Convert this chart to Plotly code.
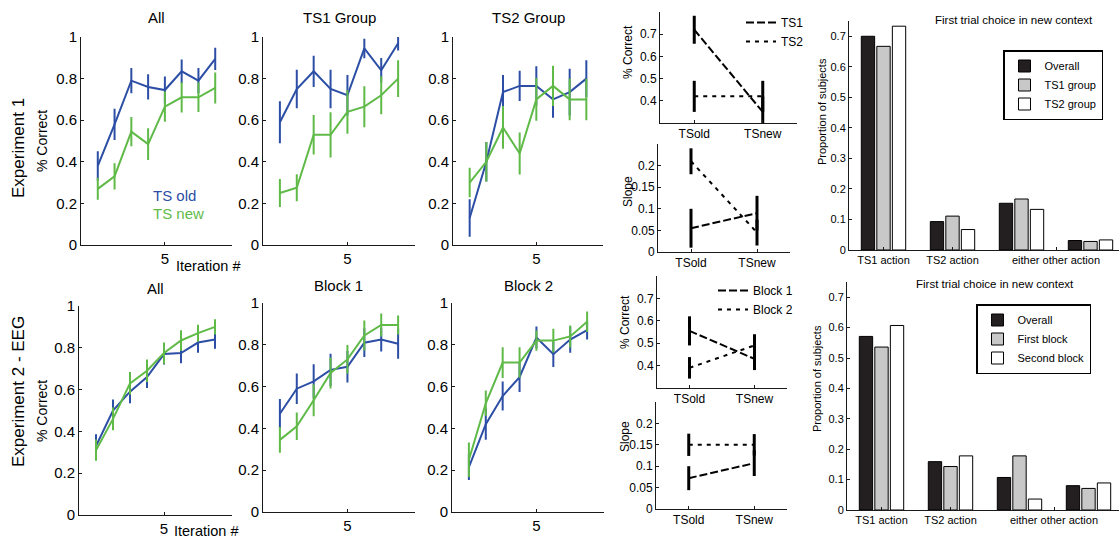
import plotly.graph_objects as go

W, H = 1119, 541

# ---------------- data ----------------
iterations = [1, 2, 3, 4, 5, 6, 7, 8]

exp1_all_old = [0.38, 0.58, 0.79, 0.76, 0.745, 0.835, 0.79, 0.895]
exp1_all_old_err = [0.066, 0.07, 0.056, 0.056, 0.06, 0.052, 0.056, 0.049]
exp1_all_new = [0.27, 0.33, 0.545, 0.485, 0.665, 0.71, 0.71, 0.755]
exp1_all_new_err = [0.048, 0.058, 0.066, 0.072, 0.068, 0.068, 0.066, 0.07]

exp1_ts1_old = [0.59, 0.75, 0.835, 0.75, 0.72, 0.945, 0.84, 0.97]
exp1_ts1_old_err = [0.096, 0.088, 0.07, 0.088, 0.092, 0.042, 0.054, 0.03]
exp1_ts1_new = [0.25, 0.275, 0.53, 0.53, 0.64, 0.665, 0.72, 0.80]
exp1_ts1_new_err = [0.062, 0.06, 0.09, 0.104, 0.1, 0.094, 0.086, 0.084]

exp1_ts2_old = [0.13, 0.40, 0.735, 0.765, 0.765, 0.70, 0.735, 0.80]
exp1_ts2_old_err = [0.085, 0.09, 0.078, 0.068, 0.09, 0.084, 0.108, 0.084]
exp1_ts2_new = [0.30, 0.40, 0.565, 0.44, 0.70, 0.765, 0.70, 0.70]
exp1_ts2_new_err = [0.066, 0.09, 0.098, 0.096, 0.098, 0.092, 0.095, 0.095]

exp2_all_old = [0.33, 0.50, 0.59, 0.66, 0.77, 0.775, 0.825, 0.84]
exp2_all_old_err = [0.052, 0.048, 0.05, 0.048, 0.045, 0.044, 0.044, 0.04]
exp2_all_new = [0.31, 0.46, 0.63, 0.69, 0.775, 0.835, 0.87, 0.90]
exp2_all_new_err = [0.046, 0.05, 0.05, 0.049, 0.046, 0.044, 0.036, 0.032]

exp2_b1_old = [0.47, 0.59, 0.625, 0.68, 0.695, 0.81, 0.825, 0.805]
exp2_b1_old_err = [0.066, 0.068, 0.077, 0.072, 0.07, 0.064, 0.052, 0.067]
exp2_b1_new = [0.345, 0.41, 0.535, 0.665, 0.73, 0.845, 0.895, 0.895]
exp2_b1_new_err = [0.057, 0.061, 0.072, 0.069, 0.064, 0.067, 0.05, 0.041]

exp2_b2_old = [0.215, 0.42, 0.555, 0.645, 0.835, 0.755, 0.825, 0.87]
exp2_b2_old_err = [0.057, 0.07, 0.065, 0.066, 0.048, 0.057, 0.058, 0.04]
exp2_b2_new = [0.25, 0.52, 0.715, 0.715, 0.82, 0.82, 0.84, 0.91]
exp2_b2_new_err = [0.078, 0.056, 0.069, 0.068, 0.044, 0.052, 0.048, 0.044]

ts_conditions = [1, 2]
ts_condition_labels = ["TSold", "TSnew"]

exp1_acc_ts1 = [0.72, 0.35]
exp1_acc_ts1_err = [0.063, 0.07]
exp1_acc_ts2 = [0.42, 0.42]
exp1_acc_ts2_err = [0.07, 0.07]
exp1_slope_ts1 = [0.055, 0.09]
exp1_slope_ts1_err = [0.045, 0.04]
exp1_slope_ts2 = [0.21, 0.045]
exp1_slope_ts2_err = [0.03, 0.03]

exp2_acc_b1 = [0.555, 0.43]
exp2_acc_b1_err = [0.065, 0.05]
exp2_acc_b2 = [0.39, 0.49]
exp2_acc_b2_err = [0.048, 0.05]
exp2_slope_b1 = [0.072, 0.107]
exp2_slope_b1_err = [0.028, 0.03]
exp2_slope_b2 = [0.15, 0.15]
exp2_slope_b2_err = [0.026, 0.025]

choice_positions = [1, 2, 3, 4]
choice_tick_positions = [1, 2, 3.5]
choice_tick_labels = ["TS1 action", "TS2 action", "either other action"]

exp1_choice_overall = [0.70, 0.093, 0.153, 0.031]
exp1_choice_ts1group = [0.667, 0.111, 0.167, 0.028]
exp1_choice_ts2group = [0.733, 0.067, 0.133, 0.033]

exp2_choice_overall = [0.571, 0.159, 0.107, 0.080]
exp2_choice_first = [0.536, 0.143, 0.178, 0.071]
exp2_choice_second = [0.607, 0.178, 0.036, 0.089]

# ---------------- styling ----------------
FONT = "Liberation Sans"
BLUE = "#2c4ea5"
GREEN = "#5fba48"
AX = "#1a1a1a"


def fx(px):
    return px / W


def fy(py):
    return 1 - py / H


fig = go.Figure()
layout = {}


def axname(i):
    return "" if i == 1 else str(i)


def add_axes(i, x0, x1, y0, y1, xr, yr, xtv, xtt, ytv, ytt, fs):
    n = axname(i)
    common = dict(showline=True, linecolor=AX, linewidth=1, showgrid=False,
                  zeroline=False, ticks="inside", ticklen=3, tickcolor=AX,
                  tickfont=dict(family=FONT, size=fs, color="black"),
                  automargin=False, fixedrange=True)
    layout["xaxis" + n] = dict(domain=[fx(x0), fx(x1)], range=xr, anchor="y" + n,
                               tickmode="array", tickvals=xtv, ticktext=xtt, **common)
    layout["yaxis" + n] = dict(domain=[fy(y1), fy(y0)], range=yr, anchor="x" + n,
                               tickmode="array", tickvals=ytv, ticktext=ytt, **common)


yt = [0, 0.2, 0.4, 0.6, 0.8, 1]
ytt = ["0", "0.2", "0.4", "0.6", "0.8", "1"]

learn_panels = [
    (1, 81, 232, 37, 245, exp1_all_old, exp1_all_old_err, exp1_all_new, exp1_all_new_err),
    (2, 263, 415, 37, 245, exp1_ts1_old, exp1_ts1_old_err, exp1_ts1_new, exp1_ts1_new_err),
    (3, 453, 603, 37, 245, exp1_ts2_old, exp1_ts2_old_err, exp1_ts2_new, exp1_ts2_new_err),
    (4, 79, 232, 306, 515, exp2_all_old, exp2_all_old_err, exp2_all_new, exp2_all_new_err),
    (5, 263, 415, 303, 512, exp2_b1_old, exp2_b1_old_err, exp2_b1_new, exp2_b1_new_err),
    (6, 452, 604, 303, 512, exp2_b2_old, exp2_b2_old_err, exp2_b2_new, exp2_b2_new_err),
]

for (i, x0, x1, y0, y1, old, olde, new, newe) in learn_panels:
    add_axes(i, x0, x1, y0, y1, [0, 9], [0, 1], [5], ["5"], yt, ytt, 15)
    n = axname(i)
    for vals, errs, col, nm in [(old, olde, BLUE, "TS old"), (new, newe, GREEN, "TS new")]:
        fig.add_trace(go.Scatter(
            x=iterations, y=vals, mode="lines", name=nm, showlegend=False,
            line=dict(color=col, width=2),
            error_y=dict(type="data", array=errs, color=col, thickness=2, width=1),
            xaxis="x" + n, yaxis="y" + n))

# middle panels
mid_panels = [
    (7, 660, 797, 12, 123, [0.3, 0.8], [0.4, 0.5, 0.6, 0.7], ["0.4", "0.5", "0.6", "0.7"],
     exp1_acc_ts1, exp1_acc_ts1_err, exp1_acc_ts2, exp1_acc_ts2_err, "TS1", "TS2", "legend"),
    (8, 658, 790, 144, 252, [0, 0.25], [0, 0.05, 0.1, 0.15, 0.2], ["0", "0.05", "0.1", "0.15", "0.2"],
     exp1_slope_ts1, exp1_slope_ts1_err, exp1_slope_ts2, exp1_slope_ts2_err, "TS1", "TS2", None),
    (9, 657, 787, 276, 388, [0.3, 0.8], [0.4, 0.5, 0.6, 0.7], ["0.4", "0.5", "0.6", "0.7"],
     exp2_acc_b1, exp2_acc_b1_err, exp2_acc_b2, exp2_acc_b2_err, "Block 1", "Block 2", "legend2"),
    (10, 656, 787, 402, 509, [0, 0.25], [0, 0.05, 0.1, 0.15, 0.2], ["0", "0.05", "0.1", "0.15", "0.2"],
     exp2_slope_b1, exp2_slope_b1_err, exp2_slope_b2, exp2_slope_b2_err, "Block 1", "Block 2", None),
]

for (i, x0, x1, y0, y1, yr, ytv, yttx, a, ae, b, be, na, nb, leg) in mid_panels:
    add_axes(i, x0, x1, y0, y1, [0.5, 2.5], yr, ts_conditions, ts_condition_labels, ytv, yttx, 12)
    n = axname(i)
    for vals, errs, nm, dash in [(a, ae, na, "8px,3px"), (b, be, nb, "4px,5px")]:
        fig.add_trace(go.Scatter(
            x=ts_conditions, y=vals, mode="lines", name=nm,
            showlegend=leg is not None, legend=leg if leg else "legend",
            line=dict(color="black", width=2, dash=dash),
            error_y=dict(type="data", array=errs, color="black", thickness=3, width=0),
            xaxis="x" + n, yaxis="y" + n))

# bar panels
bar_panels = [
    (11, 849, 1119, 21, 250,
     [(exp1_choice_overall, "Overall", "#231f20"),
      (exp1_choice_ts1group, "TS1 group", "#c8c8c8"),
      (exp1_choice_ts2group, "TS2 group", "#ffffff")], "legend3"),
    (12, 847, 1119, 282, 510,
     [(exp2_choice_overall, "Overall", "#231f20"),
      (exp2_choice_first, "First block", "#c8c8c8"),
      (exp2_choice_second, "Second block", "#ffffff")], "legend4"),
]
bt = [0, 0.1, 0.2, 0.3, 0.4, 0.5, 0.6, 0.7]
btt = ["0", "0.1", "0.2", "0.3", "0.4", "0.5", "0.6", "0.7"]
for (i, x0, x1, y0, y1, series, leg) in bar_panels:
    span = (x1 - x0) / 69.0
    add_axes(i, x0, x1, y0, y1, [0.5, 0.5 + span], [0, 0.75],
             choice_tick_positions, choice_tick_labels, bt, btt, 11)
    n = axname(i)
    for vals, nm, col in series:
        fig.add_trace(go.Bar(
            x=choice_positions, y=vals, name=nm, legend=leg,
            marker=dict(color=col, line=dict(color="black", width=1)),
            xaxis="x" + n, yaxis="y" + n))

fig.update_layout(template="none")
fig.update_layout(**layout)

fig.update_layout(
    width=W, height=H, margin=dict(l=0, r=0, t=0, b=0, pad=0), autosize=False,
    paper_bgcolor="white", plot_bgcolor="white",
    barmode="group", bargap=0.325, bargroupgap=0.14,
    font=dict(family=FONT, color="black"),
    legend=dict(x=fx(741), y=fy(8), xanchor="left", yanchor="top",
                bgcolor="rgba(0,0,0,0)", font=dict(family=FONT, size=12),
                tracegroupgap=0, itemwidth=30),
    legend2=dict(x=fx(713), y=fy(276), xanchor="left", yanchor="top",
                 bgcolor="rgba(0,0,0,0)", font=dict(family=FONT, size=12),
                 tracegroupgap=0, itemwidth=30),
    legend3=dict(x=fx(1003), y=fy(50), xanchor="left", yanchor="top",
                 bgcolor="white", bordercolor="black", borderwidth=1.5,
                 font=dict(family=FONT, size=11), tracegroupgap=0, itemwidth=30),
    legend4=dict(x=fx(976), y=fy(304), xanchor="left", yanchor="top",
                 bgcolor="white", bordercolor="black", borderwidth=1.5,
                 font=dict(family=FONT, size=11), tracegroupgap=0, itemwidth=30),
)


def ann(text, x, y, size, angle=0, color="black", xanchor="center"):
    fig.add_annotation(text=text, x=fx(x), y=fy(y), xref="paper", yref="paper",
                       showarrow=False, textangle=angle, xanchor=xanchor, yanchor="middle",
                       font=dict(family=FONT, size=size, color=color, weight="normal"))


# panel titles
ann("All", 156, 18, 15)
ann("TS1 Group", 339, 18, 15)
ann("TS2 Group", 528, 18, 15)
ann("All", 155, 288, 15)
ann("Block 1", 338, 285, 15)
ann("Block 2", 528, 285, 15)

# row labels
ann("Experiment 1", 18, 148, 17, angle=-90)
ann("% Correct", 42, 141, 14, angle=-90)
ann("Experiment 2 - EEG", 18, 392, 17, angle=-90)
ann("% Correct", 42, 411, 14, angle=-90)

ann("Iteration #", 174, 266, 14.5, xanchor="left")
ann("Iteration #", 172, 531, 14.5, xanchor="left")

ann("TS old", 151, 195, 15, color=BLUE, xanchor="left")
ann("TS new", 151, 213, 15, color=GREEN, xanchor="left")

# middle labels
ann("% Correct", 628, 52, 12, angle=-90)
ann("Slope", 628, 192, 12, angle=-90)
ann("% Correct", 625, 322, 12, angle=-90)
ann("Slope", 625, 437, 12, angle=-90)

# bar labels
ann("First trial choice in new context", 1014, 20, 11.5)
ann("First trial choice in new context", 995, 284, 11.5)
ann("Proportion of subjects", 822, 112, 11, angle=-90)
ann("Proportion of subjects", 817, 379, 11, angle=-90)

fig.write_html("out.html")
